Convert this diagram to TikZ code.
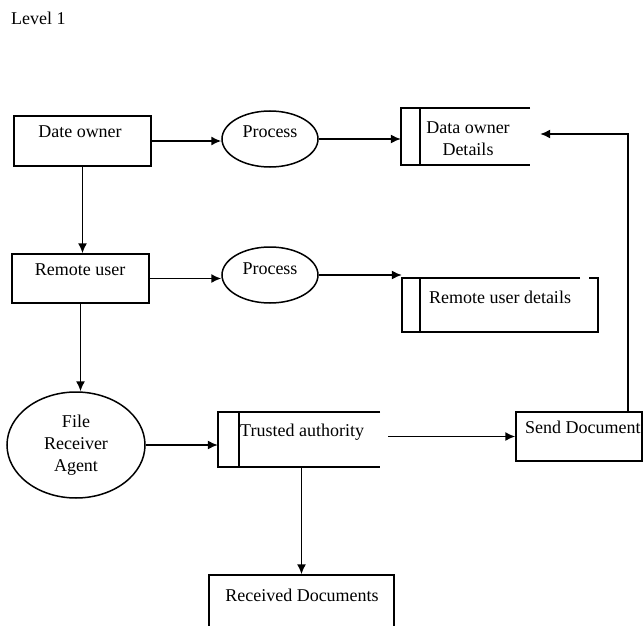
\documentclass[tikz,border=0pt]{standalone}
\usepackage{fontspec}
\setmainfont{Liberation Serif}
\usetikzlibrary{arrows.meta,calc,positioning,shapes.geometric}

\begin{document}
\begin{tikzpicture}[x=1pt,y=-1pt,
    box/.style={draw,line width=1.5pt,rectangle,inner sep=0pt},
    proc/.style={draw,line width=1.5pt,ellipse,inner sep=0pt,minimum width=96pt,minimum height=56pt},
    store/.style={rectangle,inner sep=0pt},
    txt/.style={inner sep=0pt,font=\fontsize{18}{22}\selectfont,align=center},
    flow/.style={line width=1.5pt,-{Latex[length=10pt,width=9pt]}},
    wall/.style={line width=1.5pt}]
        \useasboundingbox (0,0) rectangle (643,626);
        \node[txt,anchor=west] (title) at (11,18) {Level 1};
        % Data owner row
        \node[box,minimum width=137pt,minimum height=50pt] (downer) at (82.5,141) {};
        \node[txt] (downertxt) at (80,132) {Date owner};
        \node[proc] (proca) at (270,139) {};
        \node[txt] (procatxt) at (270,132) {Process};
        \node[store,minimum width=129pt,minimum height=57pt] (dodet) at (465.5,136.5) {};
        \draw[wall] (dodet.north east) -- (dodet.north west) -- (dodet.south west) -- (dodet.south east);
        \draw[wall] ([xshift=19pt]dodet.north west) -- ([xshift=19pt]dodet.south west);
        \node[txt] (dodettxt) at (468,138.5) {Data owner\\Details};
        \draw[flow] (downer.east) -- (downer.east -| proca.west);
        \draw[flow] (proca.east) -- (proca.east -| dodet.west);
        % Remote user row
        \node[box,minimum width=137pt,minimum height=49pt] (ruser) at (80.5,278.5) {};
        \node[txt] (rusertxt) at (80,270) {Remote user};
        \node[proc] (procb) at (270,275) {};
        \node[txt] (procbtxt) at (270,269) {Process};
        \node[store,minimum width=196pt,minimum height=54pt] (rudet) at (500,305) {};
        \draw[wall] ([xshift=-18pt]rudet.north east) -- (rudet.north west) -- (rudet.south west) -- (rudet.south east) -- (rudet.north east) -- ++(-9pt,0);
        \draw[wall] ([xshift=18pt]rudet.north west) -- ([xshift=18pt]rudet.south west);
        \node[txt] (rudettxt) at (500,297) {Remote user details};
        \draw[flow] (ruser.east) -- (ruser.east -| procb.west);
        \draw[flow] (procb.east) -- (procb.east -| rudet.west);
        \draw[flow] (downer.south) -- (downer.south |- ruser.north);
        % File receiver row
        \node[proc,minimum width=138pt,minimum height=106pt] (agent) at (76,445) {};
        \node[txt] (agenttxt) at (76,445.5) {File\\Receiver\\Agent};
        \draw[flow] (ruser.south) -- (ruser.south |- agent.north);
        \node[store,minimum width=162pt,minimum height=55pt] (trust) at (299,439.5) {};
        \draw[wall] (trust.north east) -- (trust.north west) -- (trust.south west) -- (trust.south east);
        \draw[wall] ([xshift=21pt]trust.north west) -- ([xshift=21pt]trust.south west);
        \node[txt,anchor=west] (trusttxt) at (240,432) {Trusted authority};
        \draw[flow] (agent.east) -- (agent.east -| trust.west);
        \node[box,minimum width=126pt,minimum height=49pt] (send) at (579,436.5) {};
        \node[txt,anchor=west] (sendtxt) at (525,427) {Send Document};
        \draw[flow] ([xshift=8pt]trust.east |- send.west) -- (send.west);
        % Back to data owner details
        \coordinate (bend) at (628,134);
        \draw[flow] (send.north -| bend) -- (bend) -- ([xshift=10pt]dodet.east |- bend);
        % Received documents
        \node[box,minimum width=185pt,minimum height=70pt] (recv) at (301.5,610) {};
        \node[txt] (recvtxt) at (302,595) {Received Documents};
        \draw[flow] (trust.south -| recv.north) -- (recv.north);
\end{tikzpicture}
\end{document}
